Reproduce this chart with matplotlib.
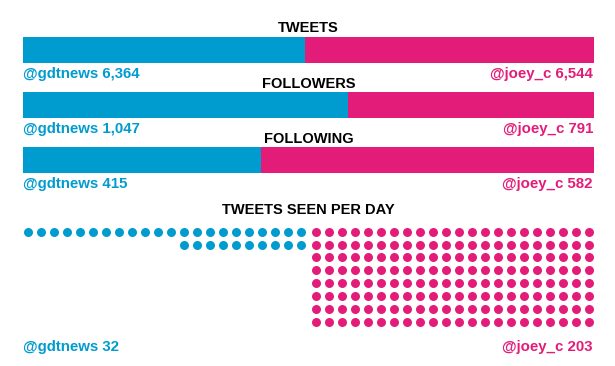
import matplotlib
matplotlib.use("Agg")
import matplotlib.pyplot as plt

# ---- data ----
names = ['@gdtnews', '@joey_c']
metrics = ['TWEETS', 'FOLLOWERS', 'FOLLOWING']
gdt_values = [6364, 1047, 415]
joey_values = [6544, 791, 582]
seen_title = 'TWEETS SEEN PER DAY'
seen_values = [32, 203]

BLUE = '#009ccf'
PINK = '#e31c79'
W, H = 615, 366
plt.rcParams['font.family'] = ['Liberation Sans', 'DejaVu Sans']

fig = plt.figure(figsize=(W / 100, H / 100), dpi=100)
fig.patch.set_facecolor('white')

def fx(px):
    return px / W

def fy(py):
    return 1 - py / H

LEFT, RIGHT = 23, 594
BAR_TOP0, BAR_H, STEP = 37, 26, 55
TITLE_FS = 10.5
LABEL_FS = 10.8

for i, (m, a, b) in enumerate(zip(metrics, gdt_values, joey_values)):
    top = BAR_TOP0 + i * STEP
    ax = fig.add_axes([fx(LEFT), fy(top + BAR_H), fx(RIGHT - LEFT), BAR_H / H])
    ax.barh(0, a, height=1, color=BLUE, left=0)
    ax.barh(0, b, height=1, color=PINK, left=a)
    ax.set_xlim(0, a + b)
    ax.set_ylim(-0.5, 0.5)
    ax.axis('off')
    fig.text(fx((LEFT + RIGHT) / 2), fy(top - 4.5), m, ha='center', va='baseline',
             fontsize=TITLE_FS, fontweight='bold', color='black')
    fig.text(fx(LEFT), fy(top + 41.3), f"{names[0]} {a:,}", ha='left', va='baseline',
             fontsize=LABEL_FS, fontweight='bold', color=BLUE)
    fig.text(fx(RIGHT - 1), fy(top + 41.3), f"{names[1]} {b:,}", ha='right', va='baseline',
             fontsize=LABEL_FS, fontweight='bold', color=PINK)

# ---- dot panel ----
COLS = 22
SP = 13.0
center = (LEFT + RIGHT) / 2
dax_top, dax_bot = 224, 329
dax = fig.add_axes([fx(LEFT), fy(dax_bot), fx(RIGHT - LEFT), (dax_bot - dax_top) / H])
half = (RIGHT - LEFT) / 2 / SP
dax.set_xlim(-half, half)
row0 = 231.7
rsp = 12.86
dax.set_ylim((dax_bot - row0) / rsp, -(row0 - dax_top) / rsp)
dax.axis('off')

bx = [-(0.55 + (i % COLS)) for i in range(seen_values[0])]
by = [i // COLS for i in range(seen_values[0])]
px = [0.55 + (i % COLS) for i in range(seen_values[1])]
py = [i // COLS for i in range(seen_values[1])]
dax.scatter(bx, by, s=42, color=BLUE, linewidths=0, clip_on=True)
dax.scatter(px, py, s=42, color=PINK, linewidths=0, clip_on=True)

fig.text(fx(center), fy(214), seen_title, ha='center', va='baseline',
         fontsize=TITLE_FS, fontweight='bold', color='black')
fig.text(fx(LEFT), fy(350.5), f"{names[0]} {seen_values[0]:,}", ha='left', va='baseline',
         fontsize=LABEL_FS, fontweight='bold', color=BLUE)
fig.text(fx(RIGHT - 1), fy(350.5), f"{names[1]} {seen_values[1]:,}", ha='right', va='baseline',
         fontsize=LABEL_FS, fontweight='bold', color=PINK)

fig.savefig('out.png', dpi=100, facecolor='white')
